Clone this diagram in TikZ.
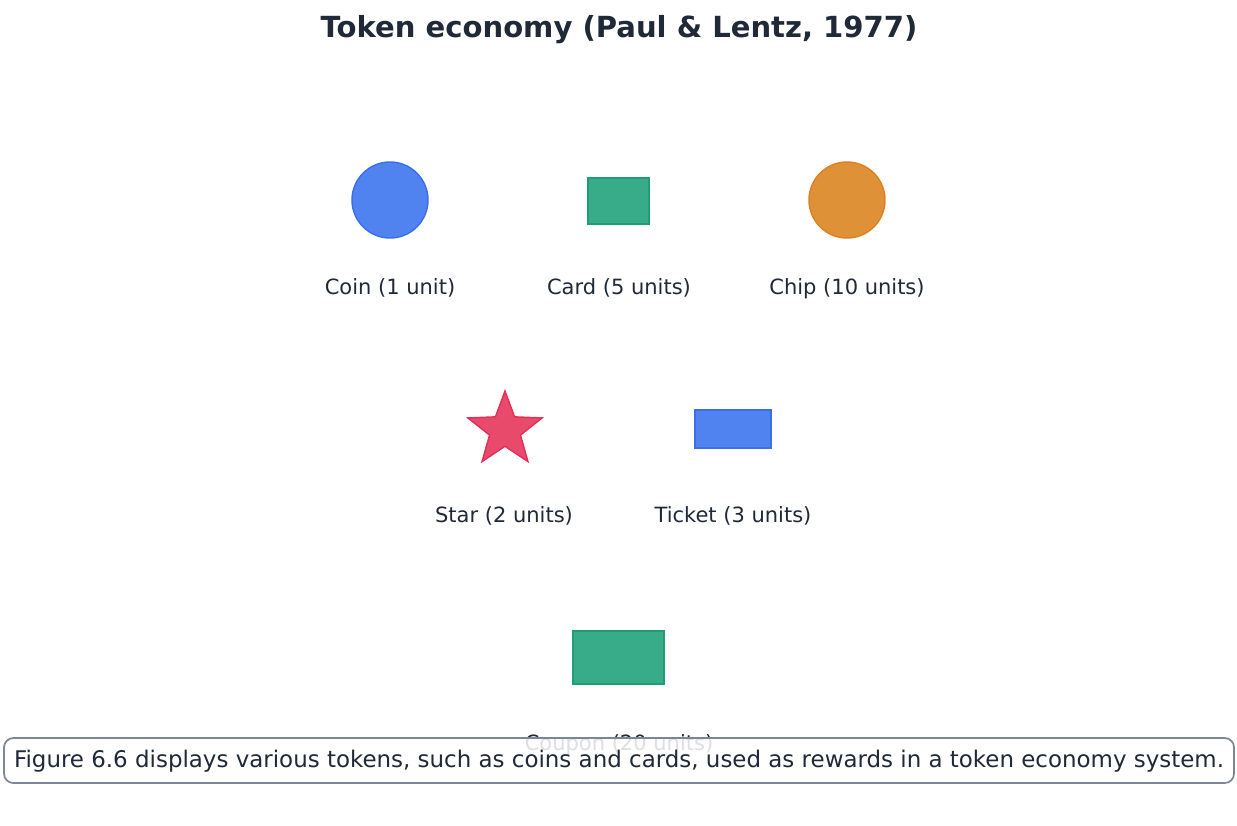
\documentclass[tikz,border=0pt]{standalone}
\usepackage{fontspec}
\setmainfont{DejaVu Sans}
\usetikzlibrary{shapes.geometric}
\definecolor{inkdark}{RGB}{31,41,55}
\definecolor{coinfill}{RGB}{81,131,240}
\definecolor{coinline}{RGB}{59,111,234}
\definecolor{cardfill}{RGB}{56,172,136}
\definecolor{cardline}{RGB}{30,158,116}
\definecolor{chipfill}{RGB}{222,145,55}
\definecolor{chipline}{RGB}{224,128,35}
\definecolor{starfill}{RGB}{232,74,108}
\definecolor{starline}{RGB}{224,49,88}
\definecolor{boxline}{RGB}{125,134,150}
\tikzset{
    token/.style={draw, line width=1.1pt, inner sep=0pt},
    tokenlabel/.style={text=inkdark, font=\fontsize{15.75}{18}\selectfont, inner sep=0pt, anchor=base},
}

\begin{document}
\begin{tikzpicture}[x=0.75pt, y=-0.75pt]
\useasboundingbox (0,0) rectangle (1237,825);
\node[text=inkdark, font=\fontsize{21.8}{26}\bfseries\selectfont, inner sep=0pt, anchor=base] (title)
    at (619,37.5) {Token economy (Paul \& Lentz, 1977)};

% first row
\node[token, circle, fill=coinfill, draw=coinline, minimum size=57pt] (coin) at (390,200) {};
\node[token, rectangle, fill=cardfill, draw=cardline, minimum width=45.75pt,
    minimum height=34.5pt] (card) at (618.5,201) {};
\node[token, circle, fill=chipfill, draw=chipline, minimum size=57pt] (chip) at (847,200) {};
\node[tokenlabel] (coinlabel) at (390,294) {Coin (1 unit)};
\node[tokenlabel] (cardlabel) at (619,294) {Card (5 units)};
\node[tokenlabel] (chiplabel) at (847,294) {Chip (10 units)};

% second row
\node[token, star, star points=5, star point ratio=2.4, fill=starfill, draw=starline,
    minimum size=58.5pt] (star) at (505,430) {};
\node[token, rectangle, fill=coinfill, draw=coinline, minimum width=57pt,
    minimum height=28.5pt] (ticket) at (733,429) {};
\node[tokenlabel] (starlabel) at (504,522) {Star (2 units)};
\node[tokenlabel] (ticketlabel) at (733,522) {Ticket (3 units)};

% third row
\node[token, rectangle, fill=cardfill, draw=cardline, minimum width=68.25pt,
    minimum height=39.75pt] (coupon) at (618.5,657.5) {};
\node[tokenlabel] (couponlabel) at (619,750.5) {Coupon (20 units)};

% caption
\node[rectangle, rounded corners=7pt, draw=boxline, line width=1.3pt, fill=white, fill opacity=0.85,
    minimum width=922.5pt, minimum height=33.75pt, inner sep=0pt] (caption) at (619,760.5) {};
\node[text=inkdark, font=\fontsize{17.2}{20}\selectfont, inner sep=0pt, anchor=base] (captiontext)
    at (619,767) {Figure 6.6 displays various tokens, such as coins and cards, used as rewards in a token economy system.};
\end{tikzpicture}
\end{document}
